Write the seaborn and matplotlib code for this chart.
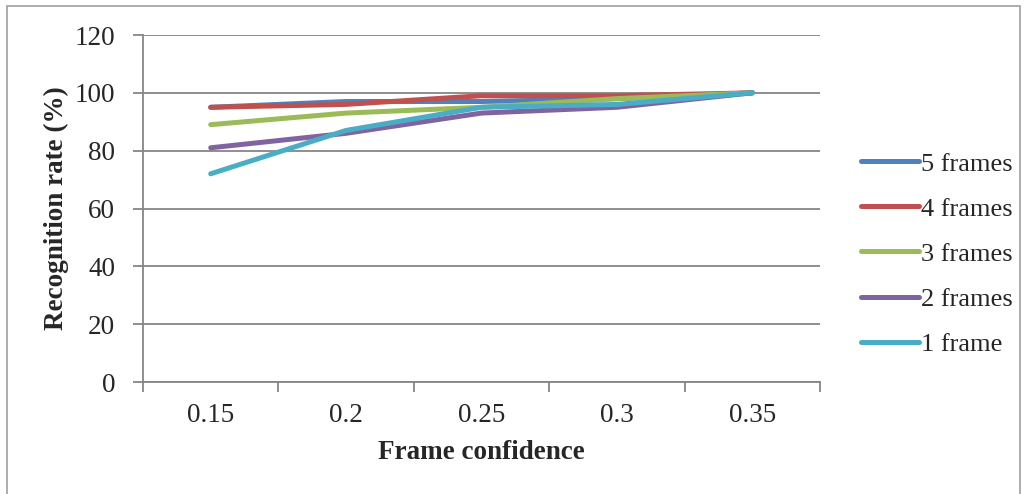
import matplotlib
matplotlib.use("Agg")

import matplotlib.pyplot as plt
import numpy as np
import pandas as pd
import seaborn as sns
from matplotlib.patches import Rectangle

# ── Data ────────────────────────────────────────────────────────────────────
CONF = ["0.15", "0.2", "0.25", "0.3", "0.35"]
SERIES = ["5 frames", "4 frames", "3 frames", "2 frames", "1 frame"]
RATE_5 = [95, 97, 97, 98, 100]
RATE_4 = [95, 96, 99, 99, 100]
RATE_3 = [89, 93, 95, 98, 100]
RATE_2 = [81, 86, 93, 95, 100]
RATE_1 = [72, 87, 95, 96, 100]
COLORS = ["#4F81BD", "#C0504D", "#9BBB59", "#8064A2", "#4BACC6"]

rows = []
for name, vals in zip(SERIES, [RATE_5, RATE_4, RATE_3, RATE_2, RATE_1]):
    for c, v in zip(CONF, vals):
        rows.append({"conf": c, "rate": v, "series": name})
df = pd.DataFrame(rows)

sns.set_theme(style="white")
plt.rcParams["font.family"] = ["Liberation Serif", "DejaVu Serif"]

fig = plt.figure(figsize=(10.27, 4.94), dpi=100)
ax = fig.add_axes([143 / 1027, 1 - 382 / 494, 677 / 1027, 347 / 494])

sns.lineplot(data=df, x="conf", y="rate", hue="series", hue_order=SERIES,
             palette=COLORS, sort=False, linewidth=3.6, ax=ax,
             solid_capstyle="round", solid_joinstyle="round")

GRID = "#868686"
ax.set_ylim(0, 120)
ax.set_yticks(np.arange(0, 121, 20))
ax.set_xlim(-0.5, 4.5)
ax.yaxis.grid(True, color=GRID, linewidth=1.3)
ax.set_axisbelow(True)
for s in ["top", "right"]:
    ax.spines[s].set_visible(False)
for s in ["left", "bottom"]:
    ax.spines[s].set_color(GRID)
    ax.spines[s].set_linewidth(1.3)

# category labels centred, tick marks between categories
ax.set_xticks(range(len(CONF)))
ax.set_xticklabels(CONF)
ax.set_xticks(np.arange(-0.5, 5.0, 1.0), minor=True)
ax.tick_params(axis="x", which="major", length=0, pad=15, labelsize=19.5)
ax.tick_params(axis="x", which="minor", length=7, width=1.3, color=GRID,
               direction="out", bottom=True)
ax.tick_params(axis="y", length=7, width=1.3, color=GRID, direction="out",
               left=True, pad=13, labelsize=19.5)

ax.set_xlabel("Frame confidence", fontsize=19.5, fontweight="bold", labelpad=9)
ax.set_ylabel("Recognition rate (%)", fontsize=19.5, fontweight="bold", labelpad=4)

leg = ax.legend(loc="center left", bbox_to_anchor=(850 / 1027, 1 - 254 / 494),
                bbox_transform=fig.transFigure, frameon=False, fontsize=19,
                handlelength=2.2, handletextpad=0.1, labelspacing=0.82,
                borderaxespad=0)
for line in leg.get_lines():
    line.set_solid_capstyle("round")

# outer chart border
fig.patches.append(Rectangle((7 / 1027, -0.05), 1013 / 1027, 1.05 - 6 / 494,
                             transform=fig.transFigure, fill=False,
                             edgecolor="#A0A0A0", linewidth=1.2))

fig.savefig("out.png", dpi=100)
